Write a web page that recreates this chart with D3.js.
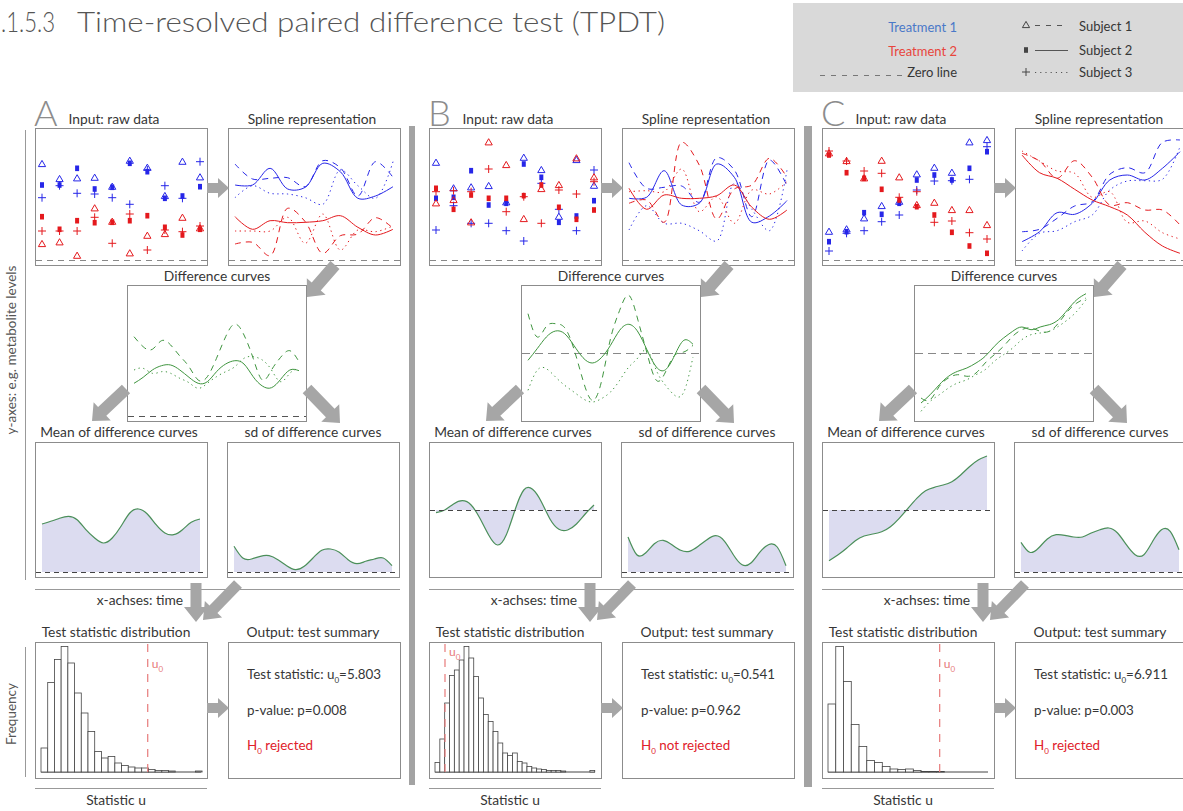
<!DOCTYPE html>
<html>
<head>
<meta charset="utf-8">
<script src="https://cdn.jsdelivr.net/npm/d3@7"></script>
<style>
  body { margin: 0; background: #fff; }
  text { font-family: Lato, "Open Sans", sans-serif; }
</style>
</head>
<body>
<svg id="fig"></svg>
<script>
const W = 1183, H = 811;
const svg = d3.select("#fig").attr("width", W).attr("height", H);

// ---- data ----
const timePoints = [1, 2, 3, 4, 5, 6, 7, 8, 9, 10];
const halfGrid = [1, 1.5, 2, 2.5, 3, 3.5, 4, 4.5, 5, 5.5, 6, 6.5, 7, 7.5, 8, 8.5, 9, 9.5, 10];
const panelLetters = ["A", "B", "C"];

// raw data, treatment 1 / 2, subjects 1..3
const rawA_t1s1 = [9.6, 8.1, 8.17, 8.23, 7.33, 9.93, 9.23, 6.4, 9.83, 8.27];
const rawA_t1s2 = [7.5, 7.5, 9.17, 7.1, 7.27, 9.67, 8.83, 6.17, 6.4, 7.33];
const rawA_t1s3 = [6.23, 7.43, 6.67, 6.6, 6.23, 5.57, 9.0, 7.43, 6.17, 9.83];
const rawA_t2s1 = [1.6, 1.77, 0.43, 5.17, 3.83, 0.67, 2.43, 2.6, 4.23, 3.17];
const rawA_t2s2 = [4.33, 3.07, 3.93, 3.73, 3.77, 3.93, 4.43, 3.27, 2.5, 3.07];
const rawA_t2s3 = [2.9, 2.9, 2.9, 4.27, 1.67, 4.6, 1.0, 3.0, 2.83, 3.4];

const rawB_t1s1 = [9.73, 7.17, 7.27, 7.4, 5.77, 10.23, 9.0, 4.33, 10.0, 7.43];
const rawB_t1s2 = [6.17, 6.27, 8.93, 5.5, 5.67, 9.6, 8.27, 3.77, 4.4, 5.93];
const rawB_t1s3 = [3.0, 5.43, 3.67, 3.67, 2.93, 1.9, 7.67, 5.07, 2.93, 9.0];
const rawB_t2s1 = [5.67, 6.0, 3.77, 11.77, 9.5, 4.1, 7.1, 7.5, 10.17, 8.27];
const rawB_t2s2 = [7.17, 5.07, 6.5, 6.17, 6.17, 6.43, 7.5, 5.27, 4.07, 5.0];
const rawB_t2s3 = [6.83, 6.93, 6.83, 9.1, 4.83, 6.33, 3.67, 7.0, 6.6, 7.83];

const rawC_t1s1 = [2.83, 3.07, 4.17, 5.4, 5.83, 8.57, 9.23, 8.73, 11.77, 12.0];
const rawC_t1s2 = [1.83, 2.83, 4.73, 4.57, 5.67, 8.0, 8.5, 8.0, 9.17, 10.83];
const rawC_t1s3 = [0.9, 2.67, 2.93, 3.83, 4.5, 7.0, 7.9, 7.93, 8.07, 11.33];
const rawC_t2s1 = [10.67, 9.9, 8.17, 9.93, 8.27, 5.5, 5.73, 5.0, 5.0, 3.5];
const rawC_t2s2 = [10.5, 8.73, 8.17, 7.07, 6.0, 5.33, 4.5, 2.77, 1.4, 0.67];
const rawC_t2s3 = [10.9, 9.9, 8.9, 8.67, 6.27, 6.83, 3.77, 3.9, 2.73, 2.1];

// difference curves (on halfGrid)
const diffA_s1 = [7.93, 6.93, 6.67, 7.53, 7.1, 6.0, 4.93, 3.6, 3.93, 5.77, 7.93, 9.2, 8.1, 5.77, 3.6, 4.6, 5.87, 6.53, 5.43];
const diffA_s2 = [3.27, 3.87, 4.6, 5.03, 5.1, 4.6, 3.87, 3.27, 3.43, 4.43, 5.2, 5.53, 5.2, 3.93, 3.0, 2.83, 3.67, 4.6, 4.53];
const diffA_s3 = [4.6, 4.77, 4.27, 4.43, 4.27, 3.77, 3.33, 2.77, 3.27, 3.93, 4.43, 4.93, 5.77, 5.93, 5.6, 4.6, 3.43, 4.27, 4.77];
const diffB_s1 = [3.93, 1.6, 2.67, 2.93, 2.53, 0.43, -2.73, -4.73, -2.9, 1.43, 4.27, 5.77, 3.27, -0.07, -2.73, -1.9, -0.23, 0.1, 0.77];
const diffB_s2 = [-0.73, 0.43, 1.6, 2.2, 1.93, 0.77, -0.47, -1.0, -0.47, 0.77, 2.27, 2.87, 2.1, 0.27, -1.4, -1.67, -0.23, 1.27, 0.87];
const diffB_s3 = [-3.73, -1.73, -1.57, -2.4, -3.23, -3.9, -4.57, -4.9, -4.57, -3.9, -2.73, -1.4, -0.47, 0.27, -1.73, -3.23, -4.23, -3.9, -0.4];
const diffC_s1 = [-4.5, -4.67, -3.33, -2.5, -2.17, -2.33, -2.0, -1.0, -0.17, 0.67, 1.67, 2.33, 2.5, 2.17, 2.17, 3.0, 4.17, 5.0, 5.5];
const diffC_s2 = [-5.0, -4.17, -3.17, -2.33, -1.83, -1.5, -1.0, -0.33, 0.67, 1.5, 2.17, 2.6, 2.33, 2.6, 2.83, 3.33, 4.33, 5.33, 5.93];
const diffC_s3 = [-5.83, -4.83, -4.17, -3.5, -3.0, -2.67, -2.17, -1.67, -0.83, -0.17, 0.5, 1.33, 1.83, 2.0, 2.17, 2.67, 3.33, 4.17, 5.33];

// mean and sd of the difference curves (on halfGrid)
const meanA = [4.8, 5.07, 5.37, 5.57, 5.23, 4.23, 3.4, 2.9, 3.4, 4.57, 5.9, 6.3, 5.8, 4.73, 3.9, 3.73, 4.23, 4.97, 5.3];
const sdA = [2.57, 1.4, 1.3, 1.57, 1.63, 1.23, 0.63, 0.23, 0.57, 1.4, 2.17, 2.3, 1.97, 1.23, 0.83, 1.07, 1.3, 1.4, 0.63];
const meanB = [-0.27, 0, 0.6, 0.93, 0.5, -0.83, -2.5, -3.5, -2.5, 0, 2.0, 2.07, 0.83, -0.93, -1.93, -2.0, -1.4, -0.4, 0.5];
const sdB = [3.5, 1.73, 1.9, 2.83, 3.17, 2.73, 2.17, 2.07, 2.57, 3.23, 3.63, 3.07, 1.73, 0.73, 0.9, 1.97, 2.73, 2.5, 0.63];
const meanC = [-5.07, -4.5, -3.83, -3.07, -2.6, -2.4, -2.17, -1.67, -0.83, 0.17, 1.17, 1.93, 2.27, 2.5, 2.83, 3.5, 4.33, 5.0, 5.4];
const sdC = [2.97, 1.97, 2.4, 3.3, 3.73, 3.67, 3.5, 3.5, 3.9, 4.23, 4.4, 3.9, 2.73, 1.73, 1.73, 3.07, 4.23, 4.07, 2.23];

// permutation distribution of the test statistic
const histA = [48, 179, 225, 251, 218, 158, 118, 81, 41, 28, 31, 18, 13, 10, 8, 8, 5, 3, 3, 2, 0, 0, 0, 2];
const histB = [19, 66, 138, 193, 204, 224, 251, 228, 191, 148, 115, 101, 81, 58, 38, 33, 38, 21, 18, 11, 8, 6, 5, 3, 3, 3, 2, 0, 0, 0, 0, 0, 3];
const histC = [136, 251, 181, 95, 51, 23, 19, 11, 6, 5, 6, 3, 1, 1, 1];
const binWidths = [0.365, 0.262, 0.48];
const uMax = [8.7, 8.66, 9.9];
const u0Values = ["5.803", "0.541", "6.911"];
const pValues = ["0.008", "0.962", "0.003"];
const decisions = ["rejected", "not rejected", "rejected"];

const legendTreatments = ["Treatment 1", "Treatment 2"];
const legendSubjects = ["Subject 1", "Subject 2", "Subject 3"];

// ---- styling ----
const BLUE = "#2626e8", RED = "#e4191d", GREEN = "#3f953f";
const T1_LEGEND = "#4a78c8", T2_LEGEND = "#e8453c";
const ARROW = "#a6a6a6", BOXLINE = "#8c8c8c", TXT = "#363636";
const subjectDash = ["6,5", null, "1.3,3.5"];
const TITLE_SIZE = 13.8, OUT_SIZE = 13.4;

const BOX = {
    raw: { x0: 35, y0: 128, x1: 207, y1: 265 },
    spline: { x0: 228, y0: 128, x1: 400, y1: 265 },
    diff: { x0: 127, y0: 285, x1: 306, y1: 421 },
    mean: { x0: 35, y0: 442, x1: 207, y1: 577 },
    sd: { x0: 227, y0: 442, x1: 399, y1: 577 },
    hist: { x0: 35, y0: 642, x1: 207, y1: 778 },
    out: { x0: 228, y0: 642, x1: 400, y1: 778 }
};

const panels = [
    {
        dx: 0,
        raw: [[rawA_t1s1, rawA_t1s2, rawA_t1s3], [rawA_t2s1, rawA_t2s2, rawA_t2s3]],
        diff: [diffA_s1, diffA_s2, diffA_s3], mean: meanA, sd: sdA, hist: histA,
        diffZero: 416, meanZero: 572, zeroColor: "#555", u0LabelY: 668
    },
    {
        dx: 394,
        raw: [[rawB_t1s1, rawB_t1s2, rawB_t1s3], [rawB_t2s1, rawB_t2s2, rawB_t2s3]],
        diff: [diffB_s1, diffB_s2, diffB_s3], mean: meanB, sd: sdB, hist: histB,
        diffZero: 353, meanZero: 510, zeroColor: "#888", u0LabelY: 656
    },
    {
        dx: 787,
        raw: [[rawC_t1s1, rawC_t1s2, rawC_t1s3], [rawC_t2s1, rawC_t2s2, rawC_t2s3]],
        diff: [diffC_s1, diffC_s2, diffC_s3], mean: meanC, sd: sdC, hist: histC,
        diffZero: 353, meanZero: 510, zeroColor: "#888", u0LabelY: 668
    }
];

// ---- helpers ----
const tScale = (b) => d3.scaleLinear().domain([1, 10]).range([b.x0 + 7, b.x1 - 7]);
// 10 px per unit, zero at the given pixel row
const vScale = (zeroPx) => d3.scaleLinear().domain([0, 10]).range([zeroPx, zeroPx - 100]);

function box(g, b) {
    g.append("rect")
        .attr("x", b.x0 + 0.5).attr("y", b.y0 + 0.5)
        .attr("width", b.x1 - b.x0).attr("height", b.y1 - b.y0)
        .attr("fill", "#fff").attr("stroke", BOXLINE).attr("stroke-width", 1);
}

function label(g, txt, x, y, opts = {}) {
    return g.append("text")
        .attr("x", x).attr("y", y)
        .attr("text-anchor", opts.anchor || "middle")
        .attr("font-size", opts.size || TITLE_SIZE)
        .attr("fill", opts.color || TXT)
        .text(txt);
}

function zeroLine(g, b, y, color, dash) {
    g.append("line")
        .attr("x1", b.x0 + 1).attr("x2", b.x1)
        .attr("y1", y).attr("y2", y)
        .attr("stroke", color).attr("stroke-width", 1)
        .attr("stroke-dasharray", dash || "6,5");
}

function arrow(g, x1, y1, x2, y2, shaft, head, headLen) {
    const L = Math.hypot(x2 - x1, y2 - y1);
    const ux = (x2 - x1) / L, uy = (y2 - y1) / L;
    const nx = -uy, ny = ux;
    const bx = x2 - ux * headLen, by = y2 - uy * headLen;
    const pts = [
        [x1 + nx * shaft / 2, y1 + ny * shaft / 2],
        [bx + nx * shaft / 2, by + ny * shaft / 2],
        [bx + nx * head / 2, by + ny * head / 2],
        [x2, y2],
        [bx - nx * head / 2, by - ny * head / 2],
        [bx - nx * shaft / 2, by - ny * shaft / 2],
        [x1 - nx * shaft / 2, y1 - ny * shaft / 2]
    ];
    g.append("path").attr("d", d3.line()(pts) + "Z").attr("fill", ARROW);
}

function marker(g, subject, x, y, color) {
    if (subject === 0) {
        g.append("path")
            .attr("d", `M${x},${y - 3.6}L${x + 3.6},${y + 2.6}L${x - 3.6},${y + 2.6}Z`)
            .attr("fill", "none").attr("stroke", color).attr("stroke-width", 1);
    } else if (subject === 1) {
        g.append("rect").attr("x", x - 2).attr("y", y - 2.8)
            .attr("width", 4).attr("height", 5.6).attr("fill", color);
    } else {
        g.append("path")
            .attr("d", `M${x - 4},${y}H${x + 4}M${x},${y - 4}V${y + 4}`)
            .attr("stroke", color).attr("stroke-width", 1);
    }
}

// subscript helper: base, sub, rest
function subText(t, base, sub, rest) {
    t.append("tspan").text(base);
    t.append("tspan").attr("font-size", 8).attr("dy", 4).text(sub);
    t.append("tspan").attr("dy", -4).text(rest);
}

// ---- title ----
svg.append("text").attr("x", 1).attr("y", 32).attr("font-size", 28).attr("font-weight", 300)
    .attr("fill", "#555").attr("textLength", 54).attr("lengthAdjust", "spacingAndGlyphs").text(".1.5.3");
svg.append("text").attr("x", 77).attr("y", 32).attr("font-size", 28).attr("font-weight", 300)
    .attr("fill", "#555").attr("textLength", 588).attr("lengthAdjust", "spacingAndGlyphs")
    .text("Time-resolved paired difference test (TPDT)");

// ---- legend ----
const lg = svg.append("g");
lg.append("rect").attr("x", 793).attr("y", 3).attr("width", 395).attr("height", 89).attr("fill", "#d9d9d9");
label(lg, legendTreatments[0], 957, 32, { anchor: "end", color: T1_LEGEND, size: 13 });
label(lg, legendTreatments[1], 957, 56, { anchor: "end", color: T2_LEGEND, size: 13 });
label(lg, "Zero line", 957, 77, { anchor: "end", size: 13 });
lg.append("line").attr("x1", 820).attr("x2", 902).attr("y1", 75.5).attr("y2", 75.5)
    .attr("stroke", "#777").attr("stroke-dasharray", "5,6");
const legendRows = [25, 50, 72];
legendSubjects.forEach((s, i) => {
    marker(lg, i, 1026, legendRows[i], "#444");
    lg.append("line").attr("x1", 1035).attr("x2", 1068)
        .attr("y1", legendRows[i] + 0.5).attr("y2", legendRows[i] + 0.5)
        .attr("stroke", "#555").attr("stroke-width", 1)
        .attr("stroke-dasharray", i === 0 ? "5,6" : i === 2 ? "1.2,4" : null);
    label(lg, s, 1079, [31, 55, 77][i], { anchor: "start", size: 13 });
});

// ---- left axis labels (panel A) ----
svg.append("line").attr("x1", 25.5).attr("x2", 25.5).attr("y1", 130).attr("y2", 580)
    .attr("stroke", "#999");
svg.append("line").attr("x1", 25.5).attr("x2", 25.5).attr("y1", 647).attr("y2", 777)
    .attr("stroke", "#999");
svg.append("text").attr("transform", "translate(16,350) rotate(-90)")
    .attr("text-anchor", "middle").attr("font-size", 13.5).attr("fill", "#555")
    .text("y-axes: e.g. metabolite levels");
svg.append("text").attr("transform", "translate(16,714) rotate(-90)")
    .attr("text-anchor", "middle").attr("font-size", 13.5).attr("fill", "#555")
    .text("Frequency");

// ---- panel separators ----
svg.append("rect").attr("x", 409).attr("y", 126).attr("width", 6).attr("height", 659).attr("fill", "#a3a3a3");
svg.append("rect").attr("x", 804).attr("y", 126).attr("width", 8).attr("height", 661).attr("fill", "#a3a3a3");

// ---- panels ----
panels.forEach((p, pi) => {
    const g = svg.append("g").attr("transform", `translate(${p.dx},0)`);

    // big letter
    g.append("text").attr("x", 34).attr("y", 126).attr("font-size", 36).attr("font-weight", 300)
        .attr("fill", "#8c8c8c").text(panelLetters[pi]);

    // titles
    label(g, "Input: raw data", 114, 124);
    label(g, "Spline representation", 312, 124);
    label(g, "Difference curves", 217, 281);
    label(g, "Mean of difference curves", 119, 437);
    label(g, "sd of difference curves", 313, 437);
    label(g, "Test statistic distribution", 116, 637);
    label(g, "Output: test summary", 313, 637);
    label(g, "x-achses: time", 140, 605);
    label(g, "Statistic u", 116, 805);

    Object.values(BOX).forEach((b) => box(g, b));

    // axis lines
    g.append("line").attr("x1", 35).attr("x2", 400).attr("y1", 589.5).attr("y2", 589.5).attr("stroke", "#999");
    g.append("line").attr("x1", 35).attr("x2", 207).attr("y1", 788.5).attr("y2", 788.5).attr("stroke", "#999");

    // raw data
    const xr = tScale(BOX.raw), yr = vScale(260);
    zeroLine(g, BOX.raw, 260.5, "#888");
    [BLUE, RED].forEach((col, ti) => {
        p.raw[ti].forEach((series, si) => {
            series.forEach((v, k) => marker(g, si, xr(timePoints[k]), yr(v), col));
        });
    });

    // spline representation
    const xs = tScale(BOX.spline);
    zeroLine(g, BOX.spline, 260.5, "#888");
    const splineLine = d3.line()
        .x((d, k) => xs(timePoints[k]))
        .y((d) => yr(d))
        .curve(d3.curveCatmullRom.alpha(0.5));
    [BLUE, RED].forEach((col, ti) => {
        p.raw[ti].forEach((series, si) => {
            g.append("path").attr("d", splineLine(series))
                .attr("fill", "none").attr("stroke", col).attr("stroke-width", 1)
                .attr("stroke-dasharray", subjectDash[si]);
        });
    });

    // difference curves
    const xd = tScale(BOX.diff), yd = vScale(p.diffZero);
    zeroLine(g, BOX.diff, p.diffZero + 0.5, p.zeroColor, pi === 0 ? "6,5" : "8,5");
    const diffLine = d3.line()
        .x((d, k) => xd(halfGrid[k]))
        .y((d) => yd(d))
        .curve(d3.curveNatural);
    p.diff.forEach((series, si) => {
        g.append("path").attr("d", diffLine(series))
            .attr("fill", "none").attr("stroke", GREEN).attr("stroke-width", 1)
            .attr("stroke-dasharray", subjectDash[si]);
    });

    // mean & sd
    [[BOX.mean, p.mean, p.meanZero], [BOX.sd, p.sd, 572]].forEach(([b, series, zero]) => {
        const xm = tScale(b), ym = vScale(zero);
        const area = d3.area()
            .x((d, k) => xm(halfGrid[k]))
            .y0(ym(0)).y1((d) => ym(d))
            .curve(d3.curveNatural);
        g.append("path").attr("d", area(series)).attr("fill", "#dcdcf0");
        g.append("path").attr("d", area.lineY1()(series))
            .attr("fill", "none").attr("stroke", "#4b8f5a").attr("stroke-width", 1.2);
        zeroLine(g, b, zero + 0.5, "#444", "5,4");
    });

    // histogram
    const xu = d3.scaleLinear().domain([0, uMax[pi]]).range([BOX.hist.x0 + 6, BOX.hist.x1 - 6]);
    const yh = d3.scaleLinear().domain([0, 260]).range([772, 642]);
    const bw = binWidths[pi];
    g.append("line").attr("x1", xu(0)).attr("x2", xu(uMax[pi]))
        .attr("y1", yh(0)).attr("y2", yh(0)).attr("stroke", "#444").attr("stroke-width", 1);
    g.selectAll(null).data(p.hist).enter().append("rect")
        .attr("x", (d, i) => xu(i * bw))
        .attr("width", xu(bw) - xu(0))
        .attr("y", (d) => yh(d))
        .attr("height", (d) => yh(0) - yh(d))
        .attr("fill", "#fff").attr("stroke", "#444").attr("stroke-width", 0.8);
    const xu0 = xu(+u0Values[pi]);
    g.append("line").attr("x1", xu0).attr("x2", xu0).attr("y1", 644).attr("y2", 777)
        .attr("stroke", "#e77b7b").attr("stroke-width", 1.2).attr("stroke-dasharray", "8,7");
    const ul = g.append("text").attr("x", xu0 + 4).attr("y", p.u0LabelY)
        .attr("font-size", 12).attr("fill", "#e77b7b");
    subText(ul, "u", "0", "");

    // output summary
    const t1 = g.append("text").attr("x", 247).attr("y", 679).attr("font-size", OUT_SIZE).attr("fill", TXT);
    subText(t1, "Test statistic: u", "0", "=" + u0Values[pi]);
    label(g, "p-value: p=" + pValues[pi], 247, 715, { anchor: "start", size: OUT_SIZE });
    const t3 = g.append("text").attr("x", 247).attr("y", 750).attr("font-size", OUT_SIZE).attr("fill", "#e0202a");
    subText(t3, "H", "0", " " + decisions[pi]);

    // arrows
    arrow(g, 207, 188, 229, 188, 10, 20, 11);
    arrow(g, 335, 265, 307, 297, 12, 25, 14);
    arrow(g, 126, 389, 92, 421, 12, 25, 14);
    arrow(g, 307, 389, 340, 423, 12, 25, 14);
    arrow(g, 196, 583, 196, 622, 11, 24, 15);
    arrow(g, 238, 584, 203, 620, 11, 24, 15);
    arrow(g, 207, 708, 229, 708, 10, 20, 11);
});
</script>
</body>
</html>
